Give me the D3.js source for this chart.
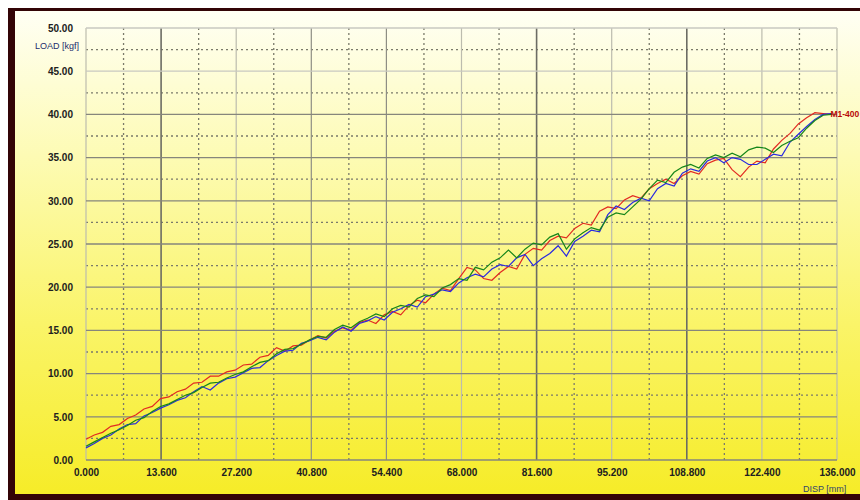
<!DOCTYPE html>
<html>
<head>
<meta charset="utf-8">
<script src="https://cdn.jsdelivr.net/npm/d3@7"></script>
<style>
  body { margin: 0; background: #fff; }
  svg { display: block; }
  .tick text { font-family: "Liberation Sans", Arial, sans-serif; font-weight: bold; font-size: 10px; fill: #202020; }
</style>
</head>
<body>
<div id="chart"></div>
<script>
var width = 860,
    height = 500,
    margin = {top: 28, right: 23, bottom: 40, left: 86};

// tick values
var yTicks = [0, 5, 10, 15, 20, 25, 30, 35, 40, 45, 50];
var xTicks = [0, 13.6, 27.2, 40.8, 54.4, 68, 81.6, 95.2, 108.8, 122.4, 136];

// displacement samples (mm), shared by the three specimens
var disp = [0, 1.5, 3, 4.5, 6, 7.5, 9, 10.5, 12, 13.5, 15, 16.5, 18, 19.5, 21, 22.5, 24, 25.5, 27, 28.5,
  30, 31.5, 33, 34.5, 36, 37.5, 39, 40.5, 42, 43.5, 45, 46.5, 48, 49.5, 51, 52.5, 54, 55.5, 57, 58.5,
  60, 61.5, 63, 64.5, 66, 67.5, 69, 70.5, 72, 73.5, 75, 76.5, 78, 79.5, 81, 82.5, 84, 85.5, 87, 88.5,
  90, 91.5, 93, 94.5, 96, 97.5, 99, 100.5, 102, 103.5, 105, 106.5, 108, 109.5, 111, 112.5, 114, 115.5,
  117, 118.5, 120, 121.5, 123, 124.5, 126, 127.5, 129, 130.5, 132, 133.5, 135];

// load (kgf)
var loadRed = [2.4, 2.9, 3.2, 3.9, 4.1, 4.8, 5.2, 5.9, 6.2, 7.1, 7.3, 7.9, 8.2, 8.9, 9.0, 9.7, 9.7, 10.2, 10.4, 11.0,
  11.1, 11.9, 12.1, 13.0, 12.6, 13.2, 13.3, 13.9, 14.4, 14.1, 14.9, 15.3, 15.0, 15.9, 16.2, 15.8, 16.8, 17.2, 16.8, 17.9,
  18.5, 18.2, 19.2, 19.9, 19.6, 21.0, 22.3, 22.0, 21.0, 20.8, 21.7, 22.4, 22.1, 23.8, 24.5, 24.3, 25.4, 25.9, 25.7, 26.8,
  27.4, 27.2, 28.8, 29.3, 29.1, 30.1, 30.6, 30.3, 31.4, 32.0, 32.5, 32.0, 32.9, 33.4, 33.1, 34.3, 34.7, 34.9,
  33.6, 32.8, 33.9, 34.6, 34.4, 36.0, 37.0, 37.8, 38.9, 39.6, 40.2, 40.1, 40.0];

var loadBlue = [1.4, 1.9, 2.5, 2.9, 3.6, 4.1, 4.2, 5.1, 5.5, 6.0, 6.4, 6.9, 7.2, 7.9, 8.5, 8.1, 8.9, 9.4, 9.6, 10.1,
  10.6, 10.7, 11.5, 12.1, 12.6, 12.7, 13.5, 13.8, 14.2, 13.9, 14.8, 15.4, 14.9, 15.8, 16.1, 16.6, 16.2, 17.1, 17.5, 18.0,
  17.7, 18.9, 19.2, 19.7, 19.5, 20.5, 21.1, 21.5, 21.2, 22.1, 22.6, 22.4, 23.4, 23.8, 22.5, 23.3, 23.9, 24.8, 23.6, 25.3,
  25.9, 26.6, 26.4, 28.4, 29.4, 29.0, 29.8, 30.3, 30.0, 31.4, 32.0, 31.7, 33.2, 33.7, 33.4, 34.6, 35.0, 34.4,
  35.0, 34.8, 34.2, 34.2, 34.8, 35.4, 35.2, 36.8, 37.7, 38.6, 39.4, 40.0, 40.1];

var loadGreen = [1.6, 2.1, 2.6, 3.1, 3.5, 4.0, 4.6, 4.9, 5.6, 6.2, 6.5, 7.0, 7.5, 7.8, 8.4, 8.9, 9.0, 9.5, 9.9, 10.2,
  10.8, 11.3, 11.5, 12.3, 12.8, 12.9, 13.4, 13.9, 14.3, 14.2, 15.1, 15.6, 15.3, 16.0, 16.4, 16.9, 16.6, 17.5, 17.9, 17.7,
  18.7, 19.1, 18.9, 19.9, 20.3, 21.0, 20.8, 22.3, 22.0, 22.9, 23.4, 24.3, 23.4, 24.4, 25.1, 24.9, 25.8, 26.2, 24.4, 25.6,
  26.3, 26.9, 26.6, 28.1, 28.6, 28.4, 29.3, 30.2, 31.4, 32.4, 32.1, 33.3, 33.9, 34.2, 33.8, 34.9, 35.3, 35.0,
  35.5, 35.1, 35.9, 36.2, 36.1, 35.6, 36.4, 36.9, 37.3, 38.4, 39.3, 39.9, 40.0];

var seriesName = "M1-400";

var x = d3.scaleLinear().domain([0, 136]).range([margin.left, width - margin.right]);
var y = d3.scaleLinear().domain([0, 50]).range([height - margin.bottom, margin.top]);

var svg = d3.select("#chart").append("svg")
  .attr("width", width)
  .attr("height", height);

var grad = svg.append("defs").append("linearGradient")
  .attr("id", "bg")
  .attr("x1", 0).attr("y1", 0).attr("x2", 0).attr("y2", 1);
grad.append("stop").attr("offset", "0%").attr("stop-color", "#fffff4");
grad.append("stop").attr("offset", "30%").attr("stop-color", "#fdfbb4");
grad.append("stop").attr("offset", "65%").attr("stop-color", "#faf468");
grad.append("stop").attr("offset", "100%").attr("stop-color", "#f6ec28");

// frame
svg.append("rect").attr("x", 8).attr("y", 8).attr("width", width - 8).attr("height", height - 8)
  .style("fill", "#330406");
svg.append("rect").attr("x", 15).attr("y", 11).attr("width", width - 15).attr("height", height - 17)
  .style("fill", "url(#bg)");

var x0 = x(0), x1 = x(136), yb = y(0), yt = y(50);

// dotted half-step grid
var grid = svg.append("g");
grid.selectAll(".vdot")
  .data(xTicks.slice(0, -1))
  .enter().append("line")
  .attr("x1", d => x(d + 6.8)).attr("x2", d => x(d + 6.8))
  .attr("y1", yt).attr("y2", yb)
  .style("stroke", "#7a7a6a").style("stroke-width", 1.3).style("stroke-dasharray", "2,3");
grid.selectAll(".hdot")
  .data(yTicks.slice(0, -1))
  .enter().append("line")
  .attr("x1", x0).attr("x2", x1)
  .attr("y1", d => y(d + 2.5)).attr("y2", d => y(d + 2.5))
  .style("stroke", "#7a7a6a").style("stroke-width", 1.3).style("stroke-dasharray", "2,3");

// solid grid
var darkX = [13.6, 81.6, 108.8], midX = [40.8, 54.4];
grid.selectAll(".vline")
  .data(xTicks)
  .enter().append("line")
  .attr("x1", d => x(d)).attr("x2", d => x(d))
  .attr("y1", yt).attr("y2", yb)
  .style("stroke", d => darkX.indexOf(d) >= 0 ? "#6c6c64" : midX.indexOf(d) >= 0 ? "#8e8e84" : "#bcbcae")
  .style("stroke-width", d => darkX.indexOf(d) >= 0 ? 1.6 : 1.2);
grid.selectAll(".hline")
  .data(yTicks)
  .enter().append("line")
  .attr("x1", x0).attr("x2", x1)
  .attr("y1", d => y(d)).attr("y2", d => y(d))
  .style("stroke", d => d >= 45 ? "#c8c8c0" : "#86867c")
  .style("stroke-width", 1.3);

// curves
var line = d3.line()
  .x((d, i) => x(disp[i]))
  .y(d => y(d));

[[loadRed, "#e22a22"], [loadBlue, "#2a2ae0"], [loadGreen, "#16861a"]].forEach(function(s) {
  svg.append("path")
    .datum(s[0])
    .attr("d", line)
    .style("fill", "none")
    .style("stroke", s[1])
    .style("stroke-width", 1.2);
});

svg.append("text")
  .attr("x", x(disp[disp.length - 1]) - 1)
  .attr("y", y(loadRed[loadRed.length - 1]) + 3)
  .text(seriesName)
  .style("font", "bold 8.5px 'Liberation Sans', Arial, sans-serif")
  .style("fill", "#b80808");

// axes
svg.append("g")
  .attr("transform", "translate(" + x0 + ",0)")
  .call(d3.axisLeft(y).tickValues(yTicks).tickFormat(d3.format(".2f")).tickSize(0).tickPadding(13))
  .call(g => g.select(".domain").remove());

svg.append("g")
  .attr("transform", "translate(0," + yb + ")")
  .call(d3.axisBottom(x).tickValues(xTicks).tickFormat(d3.format(".3f")).tickSize(0).tickPadding(9))
  .call(g => g.select(".domain").remove());

svg.append("text")
  .attr("x", 35).attr("y", 49)
  .text("LOAD [kgf]")
  .style("font", "9px 'Liberation Sans', Arial, sans-serif")
  .style("fill", "#1c2d6c");

svg.append("text")
  .attr("x", 803).attr("y", 492)
  .text("DISP [mm]")
  .style("font", "9px 'Liberation Sans', Arial, sans-serif")
  .style("fill", "#33456e");
</script>
</body>
</html>
